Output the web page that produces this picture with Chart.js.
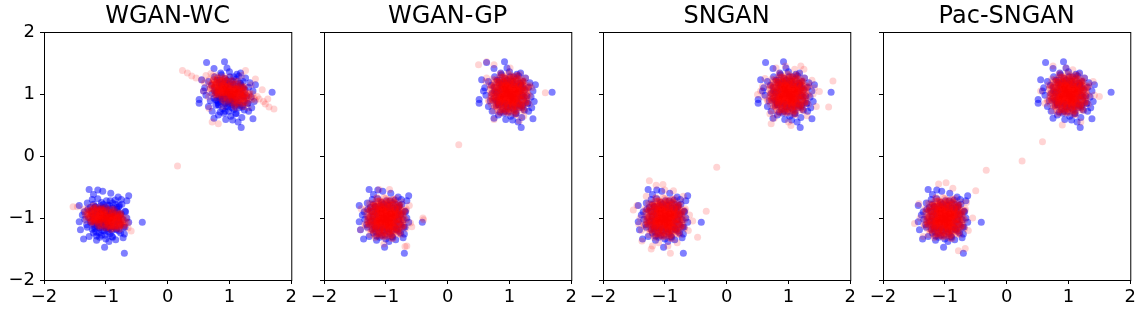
<!DOCTYPE html>
<html><head><meta charset="utf-8">
<script src="https://cdn.jsdelivr.net/npm/chart.js@4.4.1/dist/chart.umd.min.js"></script>
<style>
html,body{margin:0;padding:0;background:#fff;overflow:hidden;width:1144px;height:313px;}
canvas{position:absolute;top:0;}
</style></head><body>
<canvas id="c0" width="300" height="313" style="left:0px"></canvas>
<canvas id="c1" width="290" height="313" style="left:290px"></canvas>
<canvas id="c2" width="290" height="313" style="left:569px"></canvas>
<canvas id="c3" width="290" height="313" style="left:849px"></canvas>
<script>
const titles = ["WGAN-WC","WGAN-GP","SNGAN","Pac-SNGAN"];
const tickValues = [-2,-1,0,1,2];
const tickLabels = ["\u22122","\u22121","0","1","2"];

// real data (blue), flat x,y pairs
const blueLow = [-0.41,-1.07,-0.70,-1.57,-1.02,-1.47,-1.36,-1.34,-1.41,-1.19,-1.43,-1.06,-1.43,-0.80,-1.27,-0.54,-1.13,-0.55,-0.63,-0.64,-0.66,-0.72,-1.27,-1.30,-0.84,-1.35,-0.63,-1.07,-0.70,-1.26,
-1.20,-0.62,-1.05,-0.57,-0.92,-0.60,-0.80,-0.66,-0.74,-0.78,-0.68,-0.90,-0.66,-1.00,-0.69,-1.15,-0.76,-1.24,-0.90,-1.30,-1.00,-1.34,-1.10,-1.31,-1.20,-1.24,-1.30,-1.15,-1.34,-1.02,-1.35,-0.90,-1.30,-0.76,-1.22,-0.70,-0.95,-1.38,-1.15,-1.36,-0.75,-0.70,-1.38,-0.95,-0.72,-1.32,-1.25,-0.83,
-1.00,-1.00,-0.95,-1.05,-1.05,-0.95,-0.90,-0.92,-1.10,-1.08,-0.98,-0.88,-1.02,-1.12,-0.88,-1.05,-1.12,-0.95,-0.93,-1.15,-1.08,-0.85,-0.85,-0.95,-1.15,-1.05,-0.97,-0.96,-1.03,-1.03,-0.92,-1.00,-1.08,-1.00,-1.00,-0.92,-1.00,-1.08,-0.86,-1.12,-1.14,-0.88,-0.82,-0.86,-1.18,-1.14,-0.94,-0.80,-1.06,-1.20,-0.80,-1.02,-1.20,-0.98,-0.89,-0.84,-1.11,-1.16,-0.96,-1.22,-1.04,-0.78,-0.78,-1.10,-1.22,-0.90,-0.84,-0.78,-1.16,-1.22,-0.99,-1.17,-1.01,-0.83,-0.91,-1.08,-1.09,-0.92,-0.87,-0.98,-1.13,-1.02,-0.95,-0.90,-1.05,-1.10,-0.83,-1.18,-1.17,-0.82,-0.76,-0.95,-1.24,-1.05,-0.93,-0.72,-1.07,-1.28,-0.79,-0.82,
-0.98,-1.03,-0.94,-0.97,-1.06,-1.03,-0.97,-1.07,-1.03,-0.93,-0.89,-1,-1.11,-1,-1,-0.89,-1,-1.11,-0.92,-0.92,-1.08,-1.08,-0.92,-1.08,-1.08,-0.92,-0.83,-0.96,-1.17,-1.04,-0.96,-1.17,-1.04,-0.83,-0.86,-0.87,-1.14,-1.13,-0.87,-1.14,-1.13,-0.86,-0.79,-1.03,-1.21,-0.97,-0.97,-0.79,-1.03,-1.21,-0.82,-0.83,-1.18,-1.17,-0.83,-1.18,-1.17,-0.82,-0.75,-0.93,-1.25,-1.07,-0.93,-1.25,-1.07,-0.75,-0.76,-1.11,-1.24,-0.89,-0.89,-0.76,-1.11,-1.24,-0.99,-0.96,-1.04,-0.99,-0.93,-1.01,-1.01,-1.06,-0.9,-0.94,-1.1,-1.04,-0.96,-1.11,-1.06,-0.87,-0.86,-1.06,-1.14,-0.93,-0.94,-0.85,-1.07,-1.15,-0.8,-0.9,-1.2,-1.1,-0.9,-1.2,-1.08,-0.8,-0.72,-1.03,-1.28,-0.99,-0.99,-0.72,-1.01,-1.28,-0.78,-0.8,-1.22,-1.18,-0.79,-1.21,-1.2,-0.78,-0.69,-0.89,-1.31,-1.11,-0.89,-1.31,-1.13,-0.69,-0.71,-1.15,-1.29,-0.86,-0.85,-0.71,-1.15,-1.29,-0.97,-1,-1.03,-1.01,-1,-0.97,-0.99,-1.03,-0.93,-0.93,-1.07,-1.06,-0.94,-1.06,-1.06,-0.94,-0.87,-0.97,-1.13,-1.03,-0.97,-1.14,-1.03,-0.86,-0.85,-0.92,-1.15,-1.08,-0.92,-1.14,-1.1,-0.85];
const blueUp = [0.63,1.51,0.92,1.52,0.75,1.41,1.69,1.03,1.19,0.46,1.38,0.60,1.14,0.55,0.51,0.91,0.51,0.85,0.75,0.61,0.94,0.59,1.31,0.72,1.42,1.15,0.55,1.23,1.18,1.34,0.91,0.69,
0.60,1.10,0.62,0.98,0.66,0.80,0.72,0.72,0.82,0.66,1.02,0.64,1.10,0.68,1.24,0.74,1.30,0.85,1.35,0.95,1.38,1.05,1.33,1.18,1.26,1.26,1.12,1.32,1.00,1.36,0.86,1.34,0.76,1.28,0.66,1.20,1.05,0.58,1.20,0.62,1.40,0.88,0.58,1.05,0.96,1.42,1.36,0.78,
1.00,1.00,1.05,0.95,0.95,1.05,1.10,1.08,0.90,0.92,1.02,1.12,0.98,0.88,1.12,0.95,0.88,1.05,1.07,1.15,0.93,0.85,1.15,1.05,0.85,0.95,1.03,0.97,0.97,1.03,1.08,1.00,0.92,1.00,1.00,1.08,1.00,0.92,1.14,0.88,0.86,1.12,1.18,1.14,0.82,0.86,1.06,1.20,0.94,0.80,1.20,0.98,0.80,1.02,1.11,0.84,0.89,1.16,1.04,0.78,0.96,1.22,1.22,1.10,0.78,0.90,1.16,0.78,0.84,1.22,1.01,1.17,0.99,0.83,1.09,0.92,0.91,1.08,1.13,1.02,0.87,0.98,1.05,0.90,0.95,1.10,1.17,1.18,0.83,0.82,1.24,0.95,0.76,1.05,1.07,1.28,0.93,0.72,1.21,0.82,
1.02,0.97,1.06,1.03,0.94,0.97,1.03,0.93,0.97,1.07,1.11,1,0.89,1,1,1.11,1,0.89,1.08,1.08,0.92,0.92,1.08,0.92,0.92,1.08,1.17,1.04,0.83,0.96,1.04,0.83,0.96,1.17,1.14,1.13,0.86,0.87,1.13,0.86,0.87,1.14,1.21,0.97,0.79,1.03,1.03,1.21,0.97,0.79,1.18,1.17,0.82,0.83,1.17,0.82,0.83,1.18,1.25,1.07,0.75,0.93,1.07,0.75,0.93,1.25,1.24,0.89,0.76,1.11,1.11,1.24,0.89,0.76,1.01,1.04,0.96,1.01,1.07,0.99,0.99,0.94,1.1,1.06,0.9,0.96,1.04,0.89,0.94,1.13,1.14,0.94,0.86,1.07,1.06,1.15,0.93,0.85,1.2,1.1,0.8,0.9,1.1,0.8,0.92,1.2,1.28,0.97,0.72,1.01,1.01,1.28,0.99,0.72,1.22,1.2,0.78,0.82,1.21,0.79,0.8,1.22,1.31,1.11,0.69,0.89,1.11,0.69,0.87,1.31,1.29,0.85,0.71,1.14,1.15,1.29,0.85,0.71,1.03,1,0.97,0.99,1,1.03,1.01,0.97,1.07,1.07,0.93,0.94,1.06,0.94,0.94,1.06,1.13,1.03,0.87,0.97,1.03,0.86,0.97,1.14,1.15,1.08,0.85,0.92,1.08,0.86,0.9,1.15];

// WGAN-WC generated (red)
const wcRedLow = [-1.00,-1.00,-0.95,-1.01,-1.05,-0.99,-0.90,-1.03,-1.10,-0.97,-0.85,-1.04,-1.15,-0.96,-0.80,-1.06,-1.20,-0.94,-0.98,-0.95,-1.03,-1.05,-0.93,-0.96,-1.08,-1.04,-0.88,-0.98,-1.13,-1.02,-0.83,-1.00,-1.18,-0.99,-0.97,-1.07,-1.02,-0.93,-0.92,-1.09,-1.07,-0.91,-0.87,-1.10,-1.12,-0.90,-0.82,-1.12,-1.17,-0.89,-0.99,-1.02,-1.01,-0.98,-0.94,-1.04,-1.06,-0.96,-0.96,-0.99,-1.04,-1.01,-0.91,-1.00,-1.09,-1.00,-0.89,-1.06,-1.11,-0.94,-0.86,-0.95,-1.14,-1.05,-0.79,-1.02,-1.21,-0.98,-0.77,-1.09,-1.23,-0.91,-0.95,-1.12,-1.05,-0.88,-0.90,-0.93,-1.10,-1.07,-0.84,-1.08,-1.16,-0.92,-0.98,-1.10,-1.02,-0.90,-0.93,-1.06,-1.07,-0.94,-0.81,-0.97,-1.19,-1.03,-0.75,-1.04,-1.25,-0.96,-0.97,-1.03,-1.03,-0.97,-0.88,-1.02,-1.12,-0.98,-0.92,-0.97,-1.08,-1.03,-0.86,-1.14,-1.14,-0.86,-0.96,-0.92,-1.04,-1.08,-0.78,-1.13,-1.22,-0.87,-0.99,-1.05,-1.01,-0.95,-0.94,-1.00,-1.06,-1.00,-0.91,-1.12,-1.09,-0.88,-0.83,-1.05,-1.17,-0.95,-0.74,-1.10,-1.26,-0.90,-0.96,-1.15,-1.04,-0.85,-0.89,-0.91,
-1.30,-0.88,-1.28,-1.00,-0.70,-1.12,-0.72,-0.98,-1.15,-0.83,-0.85,-1.17,-1.00,-0.84,-1.00,-1.16,-1.24,-1.06,-0.76,-0.94,-1.33,-0.93,-0.67,-1.07,-1.10,-1.15,-0.90,-0.85,-1.53,-0.82,-1.46,-0.82,-0.59,-1.21,-1.36,-0.86,-0.64,-1.16,-1.20,-0.80,
-0.94,-0.99,-1.06,-1.01,-0.97,-1.05,-1.03,-0.95,-0.88,-1.02,-1.12,-0.98,-1,-0.93,-1,-1.07,-0.91,-0.96,-1.09,-1.04,-0.91,-1.07,-1.09,-0.93,-0.82,-1.01,-1.18,-0.99,-0.95,-1.12,-1.05,-0.88,-0.85,-0.95,-1.15,-1.05,-0.86,-1.12,-1.14,-0.88,-0.77,-1.06,-1.23,-0.94,-0.97,-0.87,-1.03,-1.13,-0.8,-0.93,-1.2,-1.07,-0.82,-1.16,-1.18,-0.84,-0.73,-1.01,-1.27,-0.99,-0.92,-1.18,-1.08,-0.82,-0.74,-1.12,-1.26,-0.88,-0.88,-0.87,-1.12,-1.13,-0.79,-0.98,-1.21,-1.02,-0.89,-1.15,-1.09,-0.86,-0.76,-0.92,-1.24,-1.07,-0.77,-1.18,-1.21,-0.81,
-0.95,-0.99,-1.05,-1.01,-0.97,-1.04,-1.03,-0.96,-0.89,-1.02,-1.11,-0.98,-1,-0.95,-1,-1.05,-0.91,-0.97,-1.09,-1.03,-0.91,-1.06,-1.09,-0.94,-0.84,-1.01,-1.16,-0.99,-0.96,-1.09,-1.04,-0.91,-0.86,-0.97,-1.14,-1.03,-0.88,-1.09,-1.12,-0.91,-0.79,-1.05,-1.21,-0.95,-0.97,-0.9,-1.03,-1.1,-0.82,-0.95,-1.18,-1.05,-0.84,-1.12,-1.16,-0.88,-0.75,-1.01,-1.25,-0.99,-0.93,-1.14,-1.07,-0.86,-0.77,-1.1,-1.23,-0.9,-0.89,-0.9,-1.11,-1.1,-0.8,-0.99,-1.2,-1.01,-0.9,-1.12,-1.09,-0.89,-0.73,-1.07,-1.28,-0.94,-0.78,-0.94,-1.22,-1.05,-0.79,-1.14,-1.2,-0.85,
-0.96,-0.99,-1.04,-1.01,-0.93,-1.01,-1.07,-0.99,-1,-0.96,-1,-1.04,-0.94,-0.98,-1.06,-1.02,-0.94,-1.04,-1.06,-0.96,-0.89,-1.01,-1.11,-0.99,-0.98,-1.06,-1.02,-0.94,-0.9,-0.97,-1.1,-1.03,-0.92,-1.06,-1.08,-0.94,-0.87,-1.03,-1.13,-0.97,-0.88,-0.97,-1.12,-1.03,-0.89,-1.08,-1.11,-0.92,-0.83,-1,-1.17,-1,-0.84,-1.06,-1.16,-0.94,-0.87,-0.99,-1.13,-1.01,-0.82,-1.04,-1.18,-0.96];
const wcRingLow = [-0.78,-1.04,-0.69,-1.04,-0.75,-1.02,-0.67,-1.0,-0.78,-0.99,-0.75,-0.97,-0.77,-0.96,-0.76,-0.93,-0.85,-0.94,-0.81,-0.91,-0.86,-0.9,-0.86,-0.86,-0.93,-0.91,-0.93,-0.86,-0.97,-0.87,-1,-0.82,-1.02,-0.88,-1.07,-0.85,-1.09,-0.85,-1.13,-0.83,-1.12,-0.88,-1.19,-0.84,-1.19,-0.86,-1.28,-0.83,-1.18,-0.9,-1.26,-0.88,-1.24,-0.9,-1.33,-0.89,-1.24,-0.93,-1.3,-0.93,-1.29,-0.95,-1.33,-0.96,-1.23,-0.98,-1.31,-0.99,-1.25,-1.01,-1.32,-1.04,-1.18,-1.03,-1.23,-1.06,-1.18,-1.07,-1.21,-1.1,-1.12,-1.08,-1.12,-1.12,-1.09,-1.12,-1.07,-1.15,-1.02,-1.11,-1,-1.16,-0.97,-1.14,-0.92,-1.19,-0.93,-1.12,-0.88,-1.17,-0.87,-1.14,-0.79,-1.18,-0.84,-1.12,-0.78,-1.14,-0.77,-1.12,-0.71,-1.13,-0.79,-1.09,-0.69,-1.1,-0.74,-1.08,-0.64,-1.08];
const wcRedUp = [1.00,1.05,1.09,1.01,0.91,1.09,1.18,0.97,0.82,1.13,1.28,0.94,0.72,1.16,
1.03,1.12,1.12,1.08,0.94,1.16,1.21,1.04,0.85,1.20,1.31,1.01,0.75,1.23,
0.97,0.98,1.06,0.94,0.88,1.02,1.15,0.90,0.79,1.06,1.25,0.87,0.69,1.09,
1.06,1.07,0.97,1.11,1.15,1.03,0.88,1.14,1.25,0.99,0.79,1.18,
1.03,0.99,0.94,1.03,1.12,0.96,0.85,1.07,1.22,0.92,0.76,1.11,
1.05,1.03,0.95,1.07,1.14,0.99,0.86,1.11,1.23,0.96,0.77,1.15,
1.05,1.16,1.14,1.12,0.96,1.20,1.23,1.08,0.86,1.24,
0.95,0.94,1.04,0.90,0.86,0.98,1.13,0.86,0.77,1.02,
1.01,1.06,0.99,1.04,1.08,1.05,0.92,1.05,1.04,1.00,0.96,1.10,1.10,0.98,0.90,1.12,1.02,1.09,0.98,1.01,1.07,1.11,0.93,0.99,1.16,1.06,0.84,1.04,1.11,0.93,0.89,1.17,1.20,1.00,0.80,1.10,
1.35,0.95,1.40,0.93,1.45,0.96,1.33,0.99,1.38,1.00,1.42,0.90,1.30,0.92,1.48,0.92,
0.24,1.38,0.32,1.34,0.39,1.29,0.46,1.26,0.55,1.22,0.60,1.18,1.72,0.76,1.64,0.79,1.58,0.84,1.62,0.92,1.53,1.07,1.42,1.24,1.26,1.38,1.20,1.30,0.72,0.55,0.82,0.52,0.67,0.77,0.62,1.30,0.70,1.33,1.35,1.15,1.30,0.78,1.55,0.88,0.90,0.80,1.10,0.78,0.58,1.05,0.66,0.95,
0.16,-0.16,
1.00,1.02,1.04,1.04,0.96,1.06,1.08,1.02,0.92,1.08,1.12,1.00,0.88,1.10,1.06,0.98,0.94,1.02,1.02,1.07,0.98,1.03,1.10,1.05,0.90,1.03,1.14,0.97,0.86,1.13,1.03,0.95,0.97,1.11,1.18,1.01,0.82,1.07,1.07,1.08,0.93,1.12,1.01,0.99,0.99,1.09,1.13,1.07,0.87,1.03,1.05,1.13,0.95,0.97,1.16,0.94,0.84,1.16,1.09,0.95,0.91,1.15,1.24,0.98,0.76,1.12,1.20,0.93,0.80,1.17,1.27,0.96,0.73,1.19,1.11,1.10,0.89,0.99,1.00,0.95,
1.06,1.05,0.94,1.05,1.03,0.98,0.97,1.12,1.12,1.01,0.88,1.09,1,1.14,1,0.96,1.09,1.09,0.91,1.01,1.09,0.95,0.91,1.15,1.18,1.02,0.82,1.08,1.05,0.9,0.95,1.2,1.15,1.1,0.85,1,1.14,0.89,0.86,1.21,1.23,0.95,0.77,1.15,1.03,1.21,0.97,0.89,1.2,1.12,0.8,0.99,1.18,0.84,0.82,1.26,1.27,1.02,0.73,1.09,1.08,0.82,0.92,1.28,1.26,0.87,0.74,1.23,1.12,1.2,0.88,0.9,1.21,1.06,0.79,1.04,1.11,0.85,0.91,1.24,1.24,1.12,0.76,0.98,1.23,0.8,0.79,1.3,
1.06,1.05,0.94,1.05,1.03,1.0,0.97,1.1,1.11,1.02,0.89,1.09,1,1.12,1,0.98,1.09,1.08,0.91,1.02,1.09,0.97,0.91,1.13,1.17,1.03,0.84,1.08,1.04,0.93,0.96,1.17,1.14,1.08,0.86,1.02,1.12,0.92,0.88,1.18,1.21,0.96,0.79,1.14,1.03,1.17,0.97,0.93,1.18,1.1,0.82,1.0,1.17,0.89,0.84,1.21,1.25,1.01,0.75,1.09,1.07,0.87,0.93,1.23,1.23,0.91,0.77,1.19,1.11,1.16,0.89,0.94,1.2,1.05,0.8,1.05,1.1,0.89,0.91,1.2,1.22,1.11,0.78,1.01,1.21,0.85,0.8,1.25,
1.04,1.06,0.96,1.04,1.07,1.03,0.93,1.07,1,1.09,1,1.01,1.06,1.07,0.94,1.03,1.06,1.0,0.94,1.1,1.11,1.03,0.89,1.07,1.02,0.98,0.98,1.12,1.1,1.07,0.9,1.03,1.08,0.97,0.92,1.13,1.13,1.0,0.87,1.1,1.12,1.08,0.88,1.02,1.11,0.95,0.89,1.15,1.17,1.03,0.83,1.07,1.16,0.96,0.84,1.14,1.13,1.05,0.87,1.05,1.18,0.98,0.82,1.11];
const wcRingUp = [1.22,0.98,1.31,0.97,1.25,1.0,1.33,1.02,1.22,1.04,1.25,1.07,1.23,1.08,1.24,1.11,1.15,1.11,1.19,1.15,1.14,1.16,1.14,1.21,1.07,1.16,1.07,1.22,1.03,1.21,1,1.27,0.98,1.21,0.93,1.25,0.91,1.25,0.87,1.28,0.88,1.21,0.81,1.27,0.81,1.24,0.73,1.29,0.82,1.19,0.74,1.23,0.76,1.2,0.67,1.23,0.76,1.16,0.7,1.17,0.71,1.14,0.67,1.13,0.77,1.1,0.69,1.09,0.75,1.06,0.68,1.03,0.82,1.02,0.77,0.99,0.82,0.98,0.79,0.94,0.88,0.96,0.88,0.91,0.91,0.9,0.93,0.87,0.98,0.91,1,0.85,1.03,0.86,1.08,0.8,1.07,0.9,1.12,0.83,1.13,0.86,1.21,0.8,1.17,0.89,1.22,0.85,1.23,0.87,1.29,0.85,1.21,0.92,1.31,0.89,1.26,0.93,1.36,0.91];

// generated cores seen in WGAN-GP, SNGAN and Pac-SNGAN (red)
const redCoreLow = [-1,-1,-0.96,-0.98,-1.04,-1.02,-0.98,-1.05,-1.02,-0.95,-0.92,-1,-1.08,-1,-1,-0.92,-1,-1.08,-0.94,-0.94,-1.06,-1.06,-0.94,-1.06,-1.06,-0.94,-0.88,-0.97,-1.12,-1.03,-0.97,-1.12,-1.03,-0.88,-0.9,-0.91,-1.1,-1.09,-0.91,-1.1,-1.09,-0.9,-0.85,-1.02,-1.15,-0.98,-0.98,-0.85,-1.02,-1.15,-0.87,-0.88,-1.13,-1.12,-0.88,-1.13,-1.12,-0.87,-0.82,-0.95,-1.18,-1.05,-0.95,-1.18,-1.05,-0.82,-0.83,-1.08,-1.17,-0.92,-0.92,-0.83,-1.08,-1.17,-0.99,-0.97,-1.03,-0.99,-0.95,-1.01,-1.01,-1.04,-0.93,-0.96,-1.07,-1.03,-0.97,-1.08,-1.04,-0.91,-0.9,-1.04,-1.1,-0.95,-0.96,-0.89,-1.05,-1.11,-0.86,-0.93,-1.14,-1.07,-0.93,-1.14,-1.06,-0.86,-0.8,-1.02,-1.2,-0.99,-0.99,-0.8,-1.01,-1.2,-0.84,-0.86,-1.16,-1.13,-0.85,-1.15,-1.14,-0.84,-0.78,-0.92,-1.22,-1.08,-0.92,-1.22,-1.09,-0.78,-0.79,-1.11,-1.21,-0.9,-0.89,-0.79,-1.11,-1.21,-0.98,-1,-1.02,-1.01,-1,-0.98,-0.99,-1.02,-0.95,-0.95,-1.05,-1.04,-0.96,-1.04,-1.04,-0.96,-0.91,-0.98,-1.09,-1.02,-0.98,-1.1,-1.02,-0.9,-0.89,-0.94,-1.11,-1.06,-0.94,-1.1,-1.07,-0.89,
-0.97,-0.94,-1.06,-0.97,-0.94,-1.03,-1.03,-1.06,-0.89,-1,-1.11,-0.99,-1,-0.89,-0.99,-1.11,-0.92,-0.92,-1.08,-1.08,-0.92,-1.08,-1.08,-0.92,-0.87,-0.96,-1.13,-1.04,-0.96,-1.13,-1.04,-0.87,-0.88,-1.07,-1.12,-0.93,-0.93,-0.88,-1.07,-1.12,-0.84,-0.98,-1.16,-1.01,-0.99,-0.84,-1.02,-1.16,-0.97,-0.97,-1.03,-1.03,-0.97,-1.03,-1.03,-0.97,-0.94,-0.99,-1.06,-1.01,-0.99,-1.06,-1.01,-0.94,-0.9,-0.88,-1.1,-1.12,-0.88,-1.1,-1.12,-0.9,-0.82,-1.04,-1.18,-0.96,-0.96,-0.82,-1.04,-1.18,
-0.72,-0.95,-1.28,-1.04,-0.96,-0.72,-1.05,-1.28,-0.78,-0.8,-1.21,-1.21,-0.8,-1.22,-1.22,-0.8,-0.7,-1.12,-1.3,-0.87,-0.88,-0.7,-1.13,-1.3,-0.67,-0.85,-1.34,-1.1,-0.9,-1.33,-1.15,-0.68,-0.74,-0.74,-1.27,-0.76,-0.75,-1.27,-1.26,-1.27,
-1.03,-0.98,-0.94,-0.97,-1.06,-1.03,-0.97,-1.08,-1.03,-0.92,-0.88,-1,-1.12,-1,-1,-0.88,-1,-1.12,-0.91,-0.91,-1.09,-1.09,-0.91,-1.09,-1.09,-0.91,-0.82,-0.95,-1.18,-1.05,-0.95,-1.18,-1.05,-0.82,-0.85,-0.86,-1.15,-1.14,-0.86,-1.15,-1.14,-0.85,-0.77,-1.03,-1.23,-0.97,-0.97,-0.77,-1.03,-1.23,-0.8,-0.82,-1.2,-1.18,-0.82,-1.2,-1.18,-0.8,-0.73,-0.92,-1.27,-1.08,-0.92,-1.27,-1.08,-0.73,-0.74,-1.12,-1.26,-0.88,-0.88,-0.74,-1.12,-1.26,-0.98,-0.95,-1.05,-0.98,-0.92,-1.02,-1.02,-1.06,-0.89,-0.94,-1.11,-1.05,-0.95,-1.12,-1.06,-0.86,-0.85,-1.06,-1.15,-0.92,-0.94,-0.83,-1.08,-1.17,-0.79,-0.89,-1.21,-1.11,-0.89,-1.21,-1.09,-0.79,-0.7,-1.03,-1.3,-0.98,-0.98,-0.7,-1.02,-1.3,-0.76,-0.79,-1.24,-1.2,-0.77,-1.23,-1.21,-0.76,-0.67,-0.88,-1.33,-1.12,-0.88,-1.33,-1.14,-0.67,-0.68,-1.17,-1.32,-0.85,-0.83,-0.68,-1.17,-1.32,-0.97,-1,-1.03,-1.02,-1,-0.97,-0.98,-1.03,-0.92,-0.92,-1.08,-1.06,-0.94,-1.06,-1.06,-0.94,-0.86,-0.97,-1.14,-1.03,-0.97,-1.15,-1.03,-0.85,-0.83,-0.91,-1.17,-1.09,-0.91,-1.15,-1.11,-0.83,
-0.99,-0.98,-0.95,-0.97,-1.05,-1.03,-0.97,-1.06,-1.03,-0.94,-0.9,-1,-1.1,-1,-1,-0.9,-1,-1.1,-0.92,-0.92,-1.08,-1.08,-0.92,-1.08,-1.08,-0.92,-0.85,-0.96,-1.15,-1.04,-0.96,-1.15,-1.04,-0.85,-0.87,-0.89,-1.13,-1.11,-0.89,-1.13,-1.11,-0.87,-0.81,-1.03,-1.19,-0.97,-0.97,-0.81,-1.03,-1.19,-0.84,-0.85,-1.16,-1.15,-0.85,-1.16,-1.15,-0.84,-0.77,-0.94,-1.23,-1.06,-0.94,-1.23,-1.06,-0.77,-0.79,-1.1,-1.21,-0.9,-0.9,-0.79,-1.1,-1.21,-0.99,-0.96,-1.04,-0.99,-0.94,-1.01,-1.01,-1.05,-0.91,-0.95,-1.09,-1.04,-0.96,-1.1,-1.05,-0.89,-0.87,-1.05,-1.13,-0.94,-0.95,-0.86,-1.06,-1.14,-0.82,-0.91,-1.18,-1.09,-0.91,-1.18,-1.08,-0.82,-0.75,-1.03,-1.25,-0.99,-0.99,-0.75,-1.01,-1.25,-0.8,-0.82,-1.2,-1.16,-0.81,-1.19,-1.18,-0.8,-0.72,-0.9,-1.28,-1.1,-0.9,-1.28,-1.11,-0.72,-0.74,-1.14,-1.26,-0.87,-0.86,-0.74,-1.14,-1.26,-0.97,-0.99,-1.03,-1.01,-1.01,-0.97,-0.99,-1.03,-0.94,-0.94,-1.06,-1.05,-0.95,-1.05,-1.05,-0.95,-0.89,-0.97,-1.11,-1.03,-0.97,-1.13,-1.03,-0.87,-0.86,-0.92,-1.14,-1.08,-0.92,-1.13,-1.09,-0.86,
-1.02,-0.99,-0.97,-0.98,-1.03,-1.02,-0.98,-1.04,-1.02,-0.96,-0.94,-1,-1.06,-1,-1,-0.94,-1,-1.06,-0.95,-0.95,-1.05,-1.05,-0.95,-1.05,-1.05,-0.95,-0.91,-0.98,-1.09,-1.02,-0.98,-1.09,-1.02,-0.91,-0.92,-0.93,-1.08,-1.07,-0.93,-1.08,-1.07,-0.92,-0.89,-1.02,-1.11,-0.98,-0.98,-0.89,-1.02,-1.11,-0.9,-0.91,-1.1,-1.09,-0.91,-1.1,-1.09,-0.9,-0.86,-0.96,-1.14,-1.04,-0.96,-1.14,-1.04,-0.86,-0.87,-1.06,-1.13,-0.94,-0.94,-0.87,-1.06,-1.13,-0.99,-0.98,-1.02,-0.99,-0.96,-1.01,-1.01,-1.03,-0.95,-0.97,-1.05,-1.02,-0.98,-1.06,-1.03,-0.93,-0.92,-1.03,-1.08,-0.96,-0.97,-0.92,-1.04,-1.08,-0.89,-0.95,-1.11,-1.05,-0.95,-1.11,-1.05,-0.89,-0.85,-1.02,-1.15,-0.99,-0.99,-0.85,-1.01,-1.15,-0.88,-0.89,-1.12,-1.1,-0.89,-1.11,-1.11,-0.88,-0.83,-0.94,-1.17,-1.06,-0.94,-1.17,-1.07,-0.83,-0.84,-1.08,-1.16,-0.92,-0.92,-0.84,-1.08,-1.16,-0.98,-0.99,-1.01,-1.02,-0.99,-0.98,-0.98,-1.02,-0.96,-0.96,-1.04,-1.03,-0.97,-1.03,-1.03,-0.97,-0.93,-0.98,-1.07,-1.02,-0.98,-1.08,-1.02,-0.92,-0.92,-0.95,-1.08,-1.05,-0.95,-1.08,-1.05,-0.92];
const redRingLow = [-0.8,-1,-0.72,-0.97,-0.77,-0.95,-0.7,-0.9,-0.8,-0.91,-0.77,-0.86,-0.79,-0.85,-0.78,-0.8,-0.86,-0.84,-0.83,-0.77,-0.87,-0.78,-0.87,-0.7,-0.94,-0.81,-0.94,-0.73,-0.97,-0.76,-1,-0.68,-1.02,-0.78,-1.06,-0.74,-1.08,-0.75,-1.12,-0.73,-1.11,-0.82,-1.17,-0.77,-1.17,-0.81,-1.25,-0.78,-1.16,-0.88,-1.24,-0.86,-1.22,-0.9,-1.3,-0.9,-1.22,-0.95,-1.27,-0.97,-1.26,-1,-1.3,-1.03,-1.21,-1.04,-1.28,-1.09,-1.23,-1.1,-1.29,-1.17,-1.16,-1.12,-1.21,-1.19,-1.16,-1.18,-1.19,-1.26,-1.11,-1.19,-1.11,-1.25,-1.08,-1.25,-1.06,-1.29,-1.02,-1.21,-1,-1.29,-0.97,-1.25,-0.93,-1.32,-0.94,-1.19,-0.89,-1.26,-0.88,-1.21,-0.81,-1.26,-0.85,-1.16,-0.8,-1.18,-0.79,-1.15,-0.74,-1.15,-0.81,-1.09,-0.72,-1.09,-0.76,-1.05,-0.67,-1.03,
-0.77,-0.98,-0.7,-1,-0.8,-0.94,-0.74,-0.94,-0.78,-0.87,-0.7,-0.87,-0.85,-0.87,-0.77,-0.83,-0.86,-0.81,-0.79,-0.77,-0.91,-0.8,-0.86,-0.76,-0.95,-0.78,-0.91,-0.71,-1,-0.79,-0.97,-0.73,-1.05,-0.76,-1.03,-0.67,-1.08,-0.82,-1.09,-0.72,-1.14,-0.81,-1.16,-0.73,-1.16,-0.85,-1.19,-0.79,-1.2,-0.88,-1.24,-0.82,-1.2,-0.94,-1.25,-0.89,-1.25,-0.97,-1.32,-0.93,-1.2,-1.02,-1.29,-1,-1.23,-1.07,-1.3,-1.06,-1.19,-1.11,-1.26,-1.11,-1.17,-1.15,-1.24,-1.18,-1.12,-1.17,-1.18,-1.2,-1.1,-1.23,-1.17,-1.29,-1.04,-1.2,-1.09,-1.28,-1,-1.24,-1.03,-1.31,-0.95,-1.22,-0.97,-1.28,-0.91,-1.21,-0.91,-1.29,-0.88,-1.17,-0.86,-1.23,-0.81,-1.17,-0.78,-1.25,-0.83,-1.1,-0.77,-1.17,-0.77,-1.07,-0.72,-1.13,-0.78,-1.02,-0.73,-1.06];
const redCoreUp = [1,1,1.04,1.02,0.96,0.98,1.02,0.95,0.98,1.05,1.08,1,0.92,1,1,1.08,1,0.92,1.06,1.06,0.94,0.94,1.06,0.94,0.94,1.06,1.12,1.03,0.88,0.97,1.03,0.88,0.97,1.12,1.1,1.09,0.9,0.91,1.09,0.9,0.91,1.1,1.15,0.98,0.85,1.02,1.02,1.15,0.98,0.85,1.13,1.12,0.87,0.88,1.12,0.87,0.88,1.13,1.18,1.05,0.82,0.95,1.05,0.82,0.95,1.18,1.17,0.92,0.83,1.08,1.08,1.17,0.92,0.83,1.01,1.03,0.97,1.01,1.05,0.99,0.99,0.96,1.07,1.04,0.93,0.97,1.03,0.92,0.96,1.09,1.1,0.96,0.9,1.05,1.04,1.11,0.95,0.89,1.14,1.07,0.86,0.93,1.07,0.86,0.94,1.14,1.2,0.98,0.8,1.01,1.01,1.2,0.99,0.8,1.16,1.14,0.84,0.87,1.15,0.85,0.86,1.16,1.22,1.08,0.78,0.92,1.08,0.78,0.91,1.22,1.21,0.89,0.79,1.1,1.11,1.21,0.89,0.79,1.02,1,0.98,0.99,1,1.02,1.01,0.98,1.05,1.05,0.95,0.96,1.04,0.96,0.96,1.04,1.09,1.02,0.91,0.98,1.02,0.9,0.98,1.1,1.11,1.06,0.89,0.94,1.06,0.9,0.93,1.11,
1.03,1.06,0.94,1.03,1.06,0.97,0.97,0.94,1.11,1,0.89,1.01,1,1.11,1.01,0.89,1.08,1.08,0.92,0.92,1.08,0.92,0.92,1.08,1.13,1.04,0.87,0.96,1.04,0.87,0.96,1.13,1.12,0.93,0.88,1.07,1.07,1.12,0.93,0.88,1.16,1.02,0.84,0.99,1.01,1.16,0.98,0.84,1.03,1.03,0.97,0.97,1.03,0.97,0.97,1.03,1.06,1.01,0.94,0.99,1.01,0.94,0.99,1.06,1.1,1.12,0.9,0.88,1.12,0.9,0.88,1.1,1.18,0.96,0.82,1.04,1.04,1.18,0.96,0.82,
1.28,1.05,0.72,0.96,1.04,1.28,0.95,0.72,1.22,1.2,0.79,0.79,1.2,0.78,0.78,1.2,1.3,0.88,0.7,1.13,1.12,1.3,0.87,0.7,1.33,1.15,0.66,0.9,1.1,0.67,0.85,1.32,1.26,1.26,0.73,1.24,1.25,0.73,0.74,0.73,
0.97,1.02,1.06,1.03,0.94,0.97,1.03,0.92,0.97,1.08,1.12,1,0.88,1,1,1.12,1,0.88,1.09,1.09,0.91,0.91,1.09,0.91,0.91,1.09,1.18,1.05,0.82,0.95,1.05,0.82,0.95,1.18,1.15,1.14,0.85,0.86,1.14,0.85,0.86,1.15,1.23,0.97,0.77,1.03,1.03,1.23,0.97,0.77,1.2,1.18,0.8,0.82,1.18,0.8,0.82,1.2,1.27,1.08,0.73,0.92,1.08,0.73,0.92,1.27,1.26,0.88,0.74,1.12,1.12,1.26,0.88,0.74,1.02,1.05,0.95,1.02,1.08,0.98,0.98,0.94,1.11,1.06,0.89,0.95,1.05,0.88,0.94,1.14,1.15,0.94,0.85,1.08,1.06,1.17,0.92,0.83,1.21,1.11,0.79,0.89,1.11,0.79,0.91,1.21,1.3,0.97,0.7,1.02,1.02,1.3,0.98,0.7,1.24,1.21,0.76,0.8,1.23,0.77,0.79,1.24,1.33,1.12,0.67,0.88,1.12,0.67,0.86,1.33,1.32,0.83,0.68,1.15,1.17,1.32,0.83,0.68,1.03,1,0.97,0.98,1,1.03,1.02,0.97,1.08,1.08,0.92,0.94,1.06,0.94,0.94,1.06,1.14,1.03,0.86,0.97,1.03,0.85,0.97,1.15,1.17,1.09,0.83,0.91,1.09,0.85,0.89,1.17,
1.01,1.02,1.05,1.03,0.95,0.97,1.03,0.94,0.97,1.06,1.1,1,0.9,1,1,1.1,1,0.9,1.08,1.08,0.92,0.92,1.08,0.92,0.92,1.08,1.15,1.04,0.85,0.96,1.04,0.85,0.96,1.15,1.13,1.11,0.87,0.89,1.11,0.87,0.89,1.13,1.19,0.97,0.81,1.03,1.03,1.19,0.97,0.81,1.16,1.15,0.84,0.85,1.15,0.84,0.85,1.16,1.23,1.06,0.77,0.94,1.06,0.77,0.94,1.23,1.21,0.9,0.79,1.1,1.1,1.21,0.9,0.79,1.01,1.04,0.96,1.01,1.06,0.99,0.99,0.95,1.09,1.05,0.91,0.96,1.04,0.9,0.95,1.11,1.13,0.95,0.87,1.06,1.05,1.14,0.94,0.86,1.18,1.09,0.82,0.91,1.09,0.82,0.92,1.18,1.25,0.97,0.75,1.01,1.01,1.25,0.99,0.75,1.2,1.18,0.8,0.84,1.19,0.81,0.82,1.2,1.28,1.1,0.72,0.9,1.1,0.72,0.89,1.28,1.26,0.86,0.74,1.13,1.14,1.26,0.86,0.74,1.03,1.01,0.97,0.99,0.99,1.03,1.01,0.97,1.06,1.06,0.94,0.95,1.05,0.95,0.95,1.05,1.11,1.03,0.89,0.97,1.03,0.87,0.97,1.13,1.14,1.08,0.86,0.92,1.08,0.87,0.91,1.14,
0.98,1.01,1.03,1.02,0.97,0.98,1.02,0.96,0.98,1.04,1.06,1,0.94,1,1,1.06,1,0.94,1.05,1.05,0.95,0.95,1.05,0.95,0.95,1.05,1.09,1.02,0.91,0.98,1.02,0.91,0.98,1.09,1.08,1.07,0.92,0.93,1.07,0.92,0.93,1.08,1.11,0.98,0.89,1.02,1.02,1.11,0.98,0.89,1.1,1.09,0.9,0.91,1.09,0.9,0.91,1.1,1.14,1.04,0.86,0.96,1.04,0.86,0.96,1.14,1.13,0.94,0.87,1.06,1.06,1.13,0.94,0.87,1.01,1.02,0.98,1.01,1.04,0.99,0.99,0.97,1.05,1.03,0.95,0.98,1.02,0.94,0.97,1.07,1.08,0.97,0.92,1.04,1.03,1.08,0.96,0.92,1.11,1.05,0.89,0.95,1.05,0.89,0.95,1.11,1.15,0.98,0.85,1.01,1.01,1.15,0.99,0.85,1.12,1.11,0.88,0.9,1.11,0.89,0.89,1.12,1.17,1.06,0.83,0.94,1.06,0.83,0.93,1.17,1.16,0.92,0.84,1.08,1.08,1.16,0.92,0.84,1.02,1.01,0.99,0.98,1.01,1.02,1.02,0.98,1.04,1.04,0.96,0.97,1.03,0.97,0.97,1.03,1.07,1.02,0.93,0.98,1.02,0.92,0.98,1.08,1.08,1.05,0.92,0.95,1.05,0.92,0.95,1.08];
const redRingUp = [1.2,1,1.28,1.03,1.23,1.05,1.3,1.1,1.2,1.09,1.23,1.14,1.21,1.15,1.22,1.2,1.14,1.16,1.17,1.23,1.13,1.22,1.13,1.3,1.06,1.19,1.06,1.27,1.03,1.24,1,1.32,0.98,1.22,0.94,1.26,0.92,1.25,0.88,1.27,0.89,1.18,0.83,1.23,0.83,1.19,0.75,1.22,0.84,1.12,0.76,1.14,0.78,1.1,0.7,1.1,0.78,1.05,0.73,1.03,0.74,1,0.7,0.97,0.79,0.96,0.72,0.91,0.77,0.9,0.71,0.83,0.84,0.88,0.79,0.81,0.84,0.82,0.81,0.74,0.89,0.81,0.89,0.75,0.92,0.75,0.94,0.71,0.98,0.79,1,0.71,1.03,0.75,1.07,0.68,1.06,0.81,1.11,0.74,1.12,0.79,1.19,0.74,1.15,0.84,1.2,0.82,1.21,0.85,1.26,0.85,1.19,0.91,1.28,0.91,1.24,0.95,1.33,0.97,
1.23,1.02,1.3,1,1.2,1.06,1.26,1.06,1.22,1.13,1.3,1.13,1.15,1.13,1.23,1.17,1.14,1.19,1.21,1.23,1.09,1.2,1.14,1.24,1.05,1.22,1.09,1.29,1,1.21,1.03,1.27,0.95,1.24,0.97,1.33,0.92,1.18,0.91,1.28,0.86,1.19,0.84,1.27,0.84,1.15,0.81,1.21,0.8,1.12,0.76,1.18,0.8,1.06,0.75,1.11,0.75,1.03,0.68,1.07,0.8,0.98,0.71,1,0.77,0.93,0.7,0.94,0.81,0.89,0.74,0.89,0.83,0.85,0.76,0.82,0.88,0.83,0.82,0.8,0.9,0.77,0.83,0.71,0.96,0.8,0.91,0.72,1,0.76,0.97,0.69,1.05,0.78,1.03,0.72,1.09,0.79,1.09,0.71,1.12,0.83,1.14,0.77,1.19,0.83,1.22,0.75,1.17,0.9,1.23,0.83,1.23,0.93,1.28,0.87,1.22,0.98,1.27,0.94];

// panel-specific generated outliers (red)
const gpRedExtra = [-0.69,-1.46,-0.66,-1.45,-1.03,-1.42,-0.39,-1.03,-0.40,-1.00,-0.58,-1.14,-0.60,-1.08,-0.94,-0.54,-1.11,-0.54,-1.41,-1.19,-1.40,-0.85,-0.62,-0.80,
0.50,1.47,0.63,1.52,0.75,1.47,1.01,1.42,1.58,1.02,0.75,0.59,1.16,0.57,1.23,0.64,0.63,1.26,0.62,1.20,1.36,1.10,
0.18,0.18];
const snRedExtra = [-1.25,-0.40,-1.51,-0.87,-0.33,-0.89,-0.47,-1.31,-0.91,-1.57,-1.22,-1.50,-1.37,-1.37,-0.86,-0.56,-1.03,-0.46,-1.14,-0.47,-1.40,-1.00,-1.38,-1.20,-0.60,-0.95,-0.62,-1.20,-1.10,-1.40,-0.80,-1.40,-1.30,-0.65,-0.70,-0.65,-1.45,-0.80,-0.55,-1.05,-1.00,-0.55,-1.20,-1.45,-0.95,-1.45,-1.42,-1.10,
1.72,1.21,1.65,0.79,1.50,1.04,0.72,0.52,1.04,0.49,0.77,0.61,0.58,1.12,0.50,0.99,1.40,1.00,1.38,1.22,0.60,0.95,0.62,1.25,1.10,1.40,0.80,1.42,1.30,0.65,0.70,0.68,1.45,0.80,0.55,1.05,1.00,0.55,1.20,1.45,0.95,1.45,1.42,1.10,1.25,1.40,
-0.16,-0.18];
const pacRedExtra = [0.58,0.23,0.25,-0.08,-0.33,-0.23,-0.50,-0.56,
1.50,0.96,1.20,0.55,0.75,1.45,0.96,1.42,1.07,1.39,1.42,0.98,0.62,0.85,0.90,0.50,0.55,1.05,1.40,1.20,
-0.98,-0.43,-1.10,-0.45,-0.87,-0.52,-0.67,-1.49,-0.78,-1.53,-1.49,-1.09,-1.42,-0.77,-0.55,-1.00,-1.35,-1.30,-0.65,-0.75,-1.40,-1.00,-0.62,-1.20];

function pts(...arrs){const out=[];for(const a of arrs)for(let i=0;i<a.length;i+=2)out.push({x:a[i],y:a[i+1]});return out;}

const panelRed = [
  pts(wcRedLow, wcRingLow, wcRedUp, wcRingUp),
  pts(redCoreLow, redRingLow, redCoreUp, redRingUp, gpRedExtra),
  pts(redCoreLow, redRingLow, redCoreUp, redRingUp, snRedExtra),
  pts(redCoreLow, redRingLow, redCoreUp, redRingUp, pacRedExtra)
];
const bluePts = pts(blueLow, blueUp);

const frame = {id:'frame', afterDatasetsDraw(chart){
  const {ctx, chartArea:a} = chart;
  ctx.save(); ctx.strokeStyle='#000'; ctx.lineWidth=1;
  ctx.strokeRect(a.left+0.5, a.top+0.5, a.right-a.left, a.bottom-a.top);
  ctx.restore();
}};

const font = 'DejaVu Sans';
function axis(showLabels, fitFn, pad){
  return {
    type:'linear', min:-2, max:2,
    ticks:{stepSize:1, display:showLabels, color:'#000', font:{family:font,size:18}, padding:pad, maxRotation:0, autoSkip:false,
      callback:(v)=>{const i=tickValues.indexOf(v);return i<0?'':tickLabels[i];}},
    grid:{display:true, drawOnChartArea:false, drawTicks:true, tickLength:4, color:'#000', lineWidth:1},
    border:{display:false},
    afterFit:fitFn
  };
}
const layout = [
  {id:'c0', yw:44, padR:8, showY:true},
  {id:'c1', yw:34, padR:8, showY:false},
  {id:'c2', yw:34, padR:8, showY:false},
  {id:'c3', yw:34, padR:8, showY:false}
];
layout.forEach((L, idx)=>{
  new Chart(document.getElementById(L.id), {
    type:'scatter',
    data:{datasets:[
      {data:panelRed[idx], backgroundColor:'rgba(255,0,0,0.17)', pointRadius:3.5, pointBorderWidth:0, pointHoverRadius:0},
      {data:bluePts, backgroundColor:'rgba(0,0,255,0.5)', pointRadius:3.5, pointBorderWidth:0, pointHoverRadius:0}
    ]},
    options:{
      responsive:false, animation:false, events:[],
      layout:{padding:{left:0,right:L.padR,top:0,bottom:0}},
      plugins:{
        legend:{display:false}, tooltip:{enabled:false},
        title:{display:true, text:titles[idx], fullSize:false, color:'#000', font:{family:font,size:24,weight:'normal',lineHeight:1.25}, padding:{top:2,bottom:0}}
      },
      scales:{
        x:axis(true, (s)=>{s.height=33;}, 3),
        y:axis(L.showY, (s)=>{s.width=L.yw;}, 5)
      }
    },
    plugins:[frame]
  });
});
</script>
</body></html>
